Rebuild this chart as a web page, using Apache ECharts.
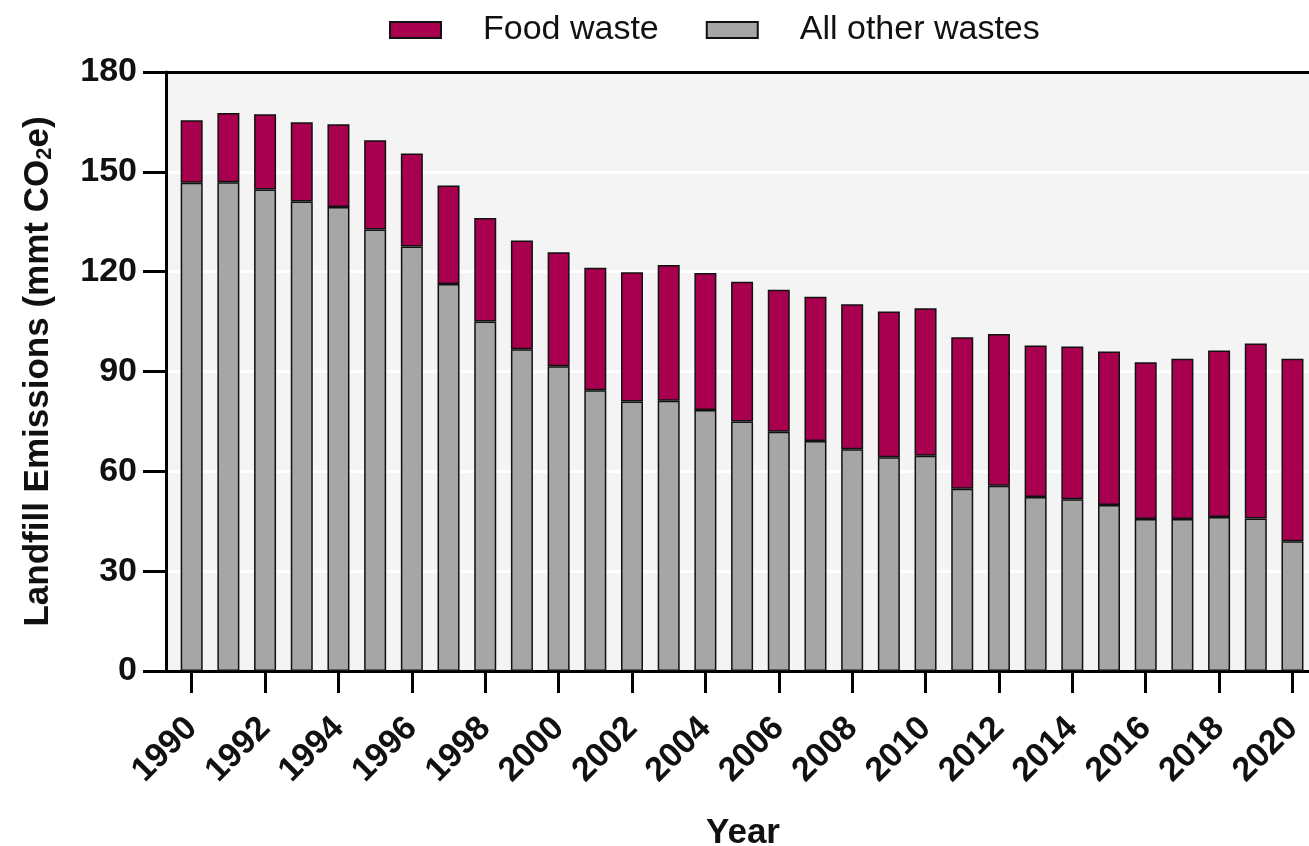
<!DOCTYPE html>
<html>
<head>
<meta charset="utf-8">
<script src="https://cdn.jsdelivr.net/npm/echarts@6/dist/echarts.min.js"></script>
<style>html,body{margin:0;padding:0;background:#fff;}#c{width:1309px;height:846px;}</style>
</head>
<body>
<div id="c"></div>
<script>
const years = [1990,1991,1992,1993,1994,1995,1996,1997,1998,1999,2000,2001,2002,2003,2004,2005,2006,2007,2008,2009,2010,2011,2012,2013,2014,2015,2016,2017,2018,2019,2020];
const otherWastes = [146.7,146.9,144.7,141.1,139.4,132.7,127.6,116.3,105.0,96.7,91.6,84.4,81.0,81.2,78.4,75.0,71.9,69.1,66.6,64.2,64.7,54.8,55.7,52.3,51.6,49.9,45.7,45.7,46.3,45.8,39.0];
const foodWaste = [18.8,20.8,22.6,23.8,24.9,26.8,27.9,29.6,31.1,32.7,34.2,36.8,38.8,40.8,41.2,42.0,42.7,43.4,43.6,43.8,44.3,45.5,45.6,45.5,45.9,46.1,47.1,48.1,50.0,52.6,54.8];
const tickYears = [1990,1992,1994,1996,1998,2000,2002,2004,2006,2008,2010,2012,2014,2016,2018,2020];

const FONT = '"Liberation Sans", Arial, sans-serif';
const chart = echarts.init(document.getElementById('c'));
chart.setOption({
  animation: false,
  backgroundColor: '#ffffff',
  textStyle: { fontFamily: FONT },
  legend: {
    left: 384, top: 8,
    icon: 'rect',
    itemWidth: 51, itemHeight: 16, itemGap: 47,
    data: ['Food waste', 'All other wastes'],
    textStyle: { fontSize: 34, color: '#111', fontFamily: FONT, padding: [0, 0, 0, 37] }
  },
  grid: {
    left: 166, top: 72, width: 1154, bottom: 175,
    outerBoundsMode: 'none', containLabel: false,
    show: true, backgroundColor: '#f4f4f4', borderWidth: 0
  },
  xAxis: [{
    type: 'value', min: 1989.3, max: 2020.75,
    name: 'Year', nameLocation: 'middle', nameGap: 145,
    nameTextStyle: { fontSize: 35, fontWeight: 'bold', color: '#111', fontFamily: FONT },
    axisLine: { show: true, lineStyle: { color: '#000', width: 3 } },
    axisTick: { show: true, length: 22, lineStyle: { color: '#000', width: 3 }, customValues: tickYears },
    axisLabel: { rotate: 45, margin: 52, padding: [16, 0, 0, 0], fontSize: 34, fontWeight: 'bold', color: '#111', fontFamily: FONT, customValues: tickYears, formatter: v => String(v) },
    splitLine: { show: false }
  }, {
    type: 'value', position: 'top', min: 1989.3, max: 2020.75,
    axisLine: { show: true, onZero: false, lineStyle: { color: '#000', width: 3 } },
    axisTick: { show: false }, axisLabel: { show: false }, splitLine: { show: false }
  }],
  yAxis: {
    type: 'value', min: 0, max: 180, interval: 30,
    name: 'Landfill Emissions (mmt CO{sub|2}e)', nameLocation: 'middle', nameGap: 110, nameRotate: 90,
    nameTextStyle: { fontSize: 35, fontWeight: 'bold', color: '#111', fontFamily: FONT,
      rich: { sub: { fontSize: 22, fontWeight: 'bold', color: '#111', fontFamily: FONT, verticalAlign: 'bottom', padding: [14, 0, 0, 0] } } },
    axisLine: { show: true, lineStyle: { color: '#000', width: 3 } },
    axisTick: { show: true, length: 23, lineStyle: { color: '#000', width: 3 } },
    axisLabel: { margin: 29, fontSize: 34, fontWeight: 'bold', color: '#111', fontFamily: FONT },
    splitLine: { show: true, lineStyle: { color: '#ffffff', width: 3 } }
  },
  series: [{
    name: 'All other wastes', type: 'bar', stack: 'total', barWidth: 22,
    encode: { x: 1, y: 0 },
    itemStyle: { color: '#a6a6a6', borderColor: '#111', borderWidth: 1.5 },
    data: years.map((y, i) => [otherWastes[i], y])
  }, {
    name: 'Food waste', type: 'bar', stack: 'total', barWidth: 22,
    encode: { x: 1, y: 0 },
    itemStyle: { color: '#a8004f', borderColor: '#111', borderWidth: 1.5 },
    data: years.map((y, i) => [foodWaste[i], y])
  }]
});
</script>
</body>
</html>
